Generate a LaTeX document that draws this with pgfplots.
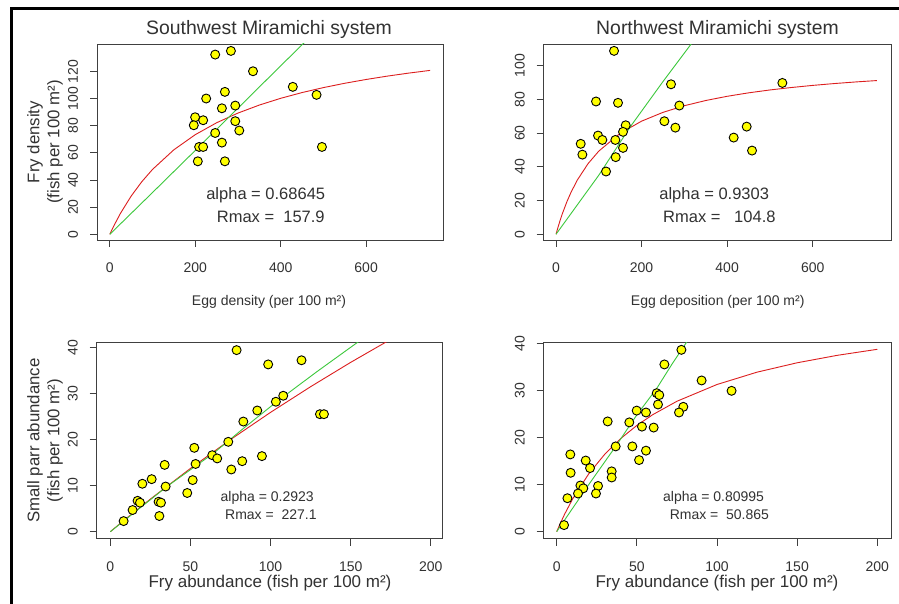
\documentclass[border=0pt]{standalone}
\usepackage{fontspec}
\setmainfont{Liberation Sans}
\usepackage{pgfplots}
\pgfplotsset{compat=1.18}
\definecolor{fitred}{RGB}{220,30,30}
\definecolor{fitgreen}{RGB}{60,200,60}
\definecolor{ptyellow}{RGB}{255,255,0}
\definecolor{txt}{RGB}{50,50,50}
\pgfplotsset{
  rpanel/.style={
    scale only axis, anchor=south west,
    axis line style={black!75, line width=0.9pt},
    tick align=outside, major tick length=7pt,
    tick style={black!75, line width=0.9pt},
    xtick pos=lower, ytick pos=left,
    /pgf/number format/assume math mode=true,
    ticklabel style={font=\fontsize{14}{15}\selectfont, text=txt},
    xticklabel style={anchor=center, yshift=-21pt},
    yticklabel style={xshift=-17pt, rotate=90, anchor=center},
    clip=true,
  },
  pts/.style={only marks, mark=*, mark size=4.5pt,
    mark options={fill=ptyellow, draw=black, line width=0.9pt}},
  redfit/.style={fitred, line width=0.9pt, no marks},
  greenfit/.style={fitgreen, line width=0.9pt, no marks},
}
\begin{document}
\begin{tikzpicture}
\useasboundingbox[fill=white] (0,0) rectangle (899pt,604pt);
\draw[line width=3pt, black] (11.5pt,0pt) -- (11.5pt,595pt) -- (899pt,595pt);

% ---------- Panel 1 ----------
\begin{axis}[rpanel, at={(97pt,364pt)}, width=346pt, height=196pt,
  xmin=-30, xmax=780, ymin=-4.2, ymax=140.3,
  xtick={0,200,400,600}, ytick={0,20,40,60,80,100,120}]
\addplot[pts] coordinates {
(246.7,132.5) (283.5,135.2) (335.2,120.2) (428.4,108.7) (484,102.8) (496.6,64.4)
(269.4,105) (225.6,100.1) (293.7,94.9) (262.4,92.9) (199.7,86.3) (196.6,80.4)
(218.5,84.1) (293.7,83.4) (303.1,76.5) (246.7,74.7) (262.4,67.6) (209.1,64.4)
(218.5,64.4) (206,53.8) (269.4,53.8)};
\addplot[redfit] coordinates {
(0,0) (5,3.36) (10,6.58) (25,15.48) (50,28.19) (75,38.82) (100,47.84) (150,62.32)
(200,73.44) (250,82.23) (300,89.37) (350,95.28) (400,100.25) (450,104.49)
(500,108.15) (550,111.34) (600,114.14) (650,116.63) (700,118.85) (750,120.84)};
\addplot[greenfit] coordinates {
(0,0) (100,30.8) (200,61.8) (300,93) (400,124.2) (460,142.8)};
\node[font=\fontsize{16.5}{18}\selectfont, text=txt] at (axis cs:365,28.5) {alpha = 0.68645};
\node[font=\fontsize{16.5}{18}\selectfont, text=txt] at (axis cs:376.8,13) {Rmax = \ 157.9};
\end{axis}

% ---------- Panel 2 ----------
\begin{axis}[rpanel, at={(543.7pt,364pt)}, width=348pt, height=195.7pt,
  xmin=-28.8, xmax=784.7, ymin=-3.4, ymax=112.6,
  xtick={0,200,400,600}, ytick={0,20,40,60,80,100}]
\addplot[pts] coordinates {
(135.6,108.7) (268.8,88.9) (529.1,89.7) (93.5,78.7) (144.9,77.9) (288.3,76.3)
(162.9,64.6) (253.3,67) (279,63.2) (445.7,63.8) (415.3,57.3) (458.2,49.6)
(156.6,60.7) (98.2,58.5) (108.3,55.9) (138.7,55.9) (57.7,53.6) (61.6,47.2)
(156.6,51.2) (139.5,45.7) (116.9,37.2)};
\addplot[redfit] coordinates {
(0,0) (5,4.45) (10,8.55) (15,12.31) (25,19.03) (35,24.84) (50,32.22) (75,41.89)
(100,49.28) (150,59.85) (200,67.04) (250,72.25) (300,76.19) (350,79.28)
(400,81.77) (450,83.82) (500,85.53) (550,86.98) (600,88.23) (650,89.32)
(700,90.27) (750,91.11)};
\addplot[greenfit] coordinates {
(0,0) (100,35) (173,63.5) (250,90.5) (316,112.8) (322,115)};
\node[font=\fontsize{16.5}{18}\selectfont, text=txt] at (axis cs:369.7,22.9) {alpha = 0.9303};
\node[font=\fontsize{16.5}{18}\selectfont, text=txt] at (axis cs:381.8,10.5) {Rmax = \ \ 104.8};
\end{axis}

% ---------- Panel 3 ----------
\begin{axis}[rpanel, at={(96.7pt,65.3pt)}, width=346pt, height=196.4pt,
  xmin=-8.5, xmax=207.4, ymin=-1.52, ymax=41.1,
  xtick={0,50,100,150,200}, ytick={0,10,20,30,40}]
\addplot[pts] coordinates {
(78.8,39.4) (98.5,36.3) (119.3,37.2) (107.9,29.5) (103.3,28.2) (91.7,26.3)
(83,23.9) (130.8,25.5) (133.3,25.5) (73.6,19.5) (52.4,18.2) (94.6,16.4)
(63.6,16.6) (66.7,15.9) (53.2,14.7) (82.3,15.3) (75.5,13.5) (33.9,14.5)
(25.8,11.4) (51.4,11.2) (20,10.4) (34.5,9.8) (48,8.4) (17,6.7) (18.5,6.3)
(30.1,6.5) (31.6,6.3) (13.9,4.7) (30.6,3.4) (8.3,2.3)};
\addplot[redfit] coordinates {
(0,0) (10,2.89) (25,7.08) (50,13.73) (75,19.99) (100,25.90) (125,31.47)
(150,36.75) (175,41.75) (200,46.49)};
\addplot[greenfit] coordinates {
(0,0) (35.2,9.77) (64.3,17.0) (83,22.4) (103.8,28.2) (128.8,34.7) (154.7,41.2) (160,42.6)};
\node[font=\fontsize{14}{16}\selectfont, text=txt] at (axis cs:97.9,7.38) {alpha = 0.2923};
\node[font=\fontsize{14}{16}\selectfont, text=txt] at (axis cs:100.2,3.76) {Rmax = \ 227.1};
\end{axis}

% ---------- Panel 4 ----------
\begin{axis}[rpanel, at={(543.7pt,65.3pt)}, width=348pt, height=196.4pt,
  xmin=-8.1, xmax=209, ymin=-1.49, ymax=40.2,
  xtick={0,50,100,150,200}, ytick={0,10,20,30,40}]
\addplot[pts] coordinates {
(77.8,38.6) (67.2,35.5) (90.4,32.1) (109.1,29.9) (62.4,29.4) (64,29) (63.2,27)
(79,26.5) (76.3,25.3) (49.9,25.7) (55.7,25.3) (31.8,23.4) (45.3,23.2) (53.2,22.3)
(60.5,22.1) (36.8,18.1) (47.2,18.1) (55.7,17.2) (51.4,15.2) (8.5,16.4) (18.1,15.1)
(20.8,13.5) (34.3,12.8) (34.3,11.5) (8.7,12.5) (14.8,9.8) (25.8,9.7) (16.6,9.2)
(13.3,8.1) (24.5,8.1) (6.7,7.1) (4.6,1.4)};
\addplot[redfit] coordinates {
(0,0) (2,1.57) (5,3.75) (10,6.99) (20,12.29) (30,16.44) (40,19.79) (50,22.55)
(60,24.85) (75,27.68) (100,31.24) (125,33.86) (150,35.85) (175,37.43) (200,38.71)};
\addplot[greenfit] coordinates {
(0,0) (10,5) (20,10) (37.4,18.4) (50,24.8) (62.4,30.4) (72,35.6) (81,40.2) (83,41.2)};
\node[font=\fontsize{14}{16}\selectfont, text=txt] at (axis cs:97.9,7.22) {alpha = 0.80995};
\node[font=\fontsize{14}{16}\selectfont, text=txt] at (axis cs:101.5,3.68) {Rmax = \ 50.865};
\end{axis}

% ---------- Titles and labels ----------
\node[anchor=base, font=\fontsize{19.4}{22}\selectfont, text=txt] at (269pt,569.7pt) {Southwest Miramichi system};
\node[anchor=base, font=\fontsize{19.4}{22}\selectfont, text=txt] at (717.5pt,569.7pt) {Northwest Miramichi system};
\node[anchor=base, font=\fontsize{14}{16}\selectfont, text=txt] at (269pt,298pt) {Egg density (per 100 m²)};
\node[anchor=base, font=\fontsize{14}{16}\selectfont, text=txt] at (717.7pt,298pt) {Egg deposition (per 100 m²)};
\node[anchor=base, font=\fontsize{17}{19}\selectfont, text=txt] at (270pt,16.7pt) {Fry abundance (fish per 100 m²)};
\node[anchor=base, font=\fontsize{17}{19}\selectfont, text=txt] at (717pt,16.7pt) {Fry abundance (fish per 100 m²)};
\node[rotate=90, align=center, font=\fontsize{16.8}{20}\selectfont, text=txt] at (45pt,462pt) {Fry density\\(fish per 100 m²)};
\node[rotate=90, align=center, font=\fontsize{16.8}{20}\selectfont, text=txt] at (45pt,163.5pt) {Small parr abundance\\(fish per 100 m²)};
\end{tikzpicture}
\end{document}
